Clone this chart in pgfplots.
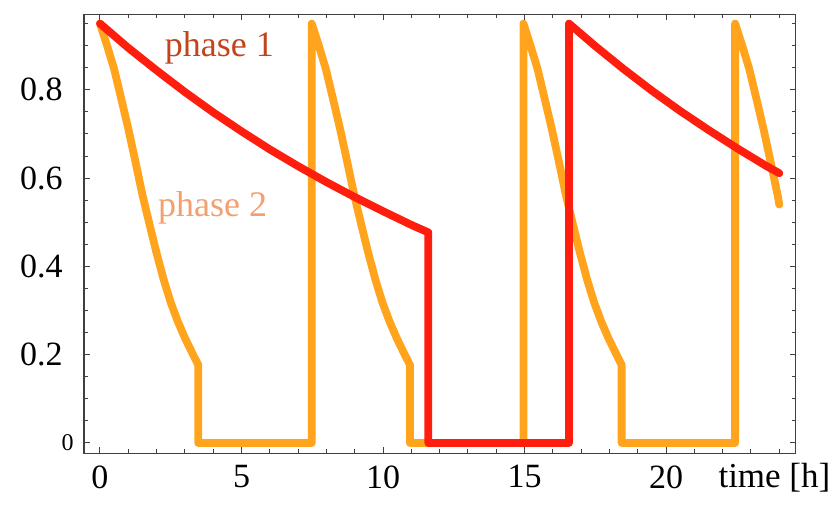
\documentclass[border=0pt]{standalone}
\usepackage{pgfplots}
\pgfplotsset{compat=1.18}
\usepackage{fontspec}
\setmainfont{Liberation Serif}
\definecolor{orangeline}{HTML}{FFA41C}
\definecolor{redline}{HTML}{FF1E0E}
\definecolor{phaseone}{HTML}{C2441C}
\definecolor{phasetwo}{HTML}{F2A070}

\begin{document}
\begin{tikzpicture}
% fixed page area (840x505 px at 0.5pt per px)
\path (-42pt,-26pt) rectangle (378pt,226.5pt);
\begin{axis}[
    at={(0,0)}, anchor=south west,
    scale only axis,
    width=355.85pt, height=219.5pt,
    xmin=-0.565, xmax=24.58,
    ymin=-0.0227, ymax=0.9717,
    clip=false,
    axis line style={black!75, line width=0.5pt},
    every tick/.style={black!75, line width=0.5pt},
    major tick length=3pt, minor tick length=2pt,
    xtick={0,5,10,15,20},
    minor xtick={0,1,...,24},
    ytick={0,0.2,0.4,0.6,0.8},
    minor ytick={0,0.05,...,0.951},
    xticklabels={0,5,10,15,20},
    yticklabels={{\fontsize{12}{14}\selectfont 0\hspace*{-6pt}},0.2,0.4,0.6,0.8},
    /pgf/number format/assume math mode=true,
    tick label style={font=\fontsize{17}{20}\selectfont, inner sep=0pt},
    y tick label style={xshift=-10.5pt},
    x tick label style={yshift=-6pt},
    xlabel={time [h]},
    xlabel style={at={(axis description cs:0.891,-0.0797)}, anchor=base west,
        inner sep=0pt, font=\fontsize{17.5}{20}\selectfont},
]
% phase 2
\addplot[orangeline, line width=3.9pt, line cap=round, line join=round] coordinates {
    (0,0.95) (0.25,0.90) (0.5,0.847) (0.75,0.78) (1.0,0.712) (1.25,0.638) (1.5,0.562) (1.75,0.495) (2.0,0.43) (2.25,0.37) (2.5,0.318) (2.75,0.275) (3.0,0.238) (3.25,0.205) (3.47,0.177) (3.47,0) (7.48,0)
    (7.48,0.95) (7.73,0.90) (7.98,0.847) (8.23,0.78) (8.48,0.712) (8.73,0.638) (8.98,0.562) (9.23,0.495) (9.48,0.43) (9.73,0.37) (9.98,0.318) (10.23,0.275) (10.48,0.238) (10.73,0.205) (10.95,0.177) (10.95,0) (14.96,0)
    (14.96,0.95) (15.21,0.90) (15.46,0.847) (15.71,0.78) (15.96,0.712) (16.21,0.638) (16.46,0.562) (16.71,0.495) (16.96,0.43) (17.21,0.37) (17.46,0.318) (17.71,0.275) (17.96,0.238) (18.21,0.205) (18.43,0.177) (18.43,0) (22.44,0)
    (22.44,0.95) (22.69,0.90) (22.94,0.847) (23.19,0.78) (23.44,0.712) (23.69,0.638) (23.94,0.562) (24.0,0.54)
};
% phase 1
\addplot[redline, line width=3.9pt, line cap=round, line join=round] coordinates {
    (0,0.95) (1,0.895) (2,0.844) (3,0.795) (4,0.749) (5,0.706) (6,0.665) (7,0.627) (8,0.591) (9,0.557) (10,0.525) (11,0.494) (11.6,0.477)
    (11.6,0) (16.57,0)
    (16.57,0.95) (17.5,0.899) (18.5,0.847) (19.5,0.798) (20.5,0.752) (21.5,0.709) (22.5,0.668) (23.5,0.629) (24,0.611)
};
\node[phaseone, anchor=base, inner sep=0pt, font=\fontsize{18}{20}\selectfont] at (axis cs:4.22,0.875) {phase 1};
\node[phasetwo, anchor=base, inner sep=0pt, font=\fontsize{18}{20}\selectfont] at (axis cs:3.98,0.513) {phase 2};
\end{axis}
\end{tikzpicture}
\end{document}
